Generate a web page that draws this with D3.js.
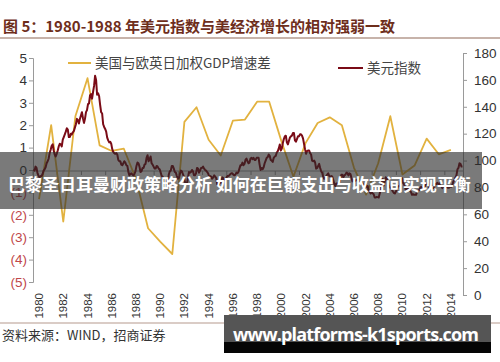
<!DOCTYPE html>
<html>
<head>
<meta charset="utf-8">
<script src="https://cdn.jsdelivr.net/npm/d3@7"></script>
<style>
  body { margin: 0; background: #fff; }
  text { font-family: "Liberation Sans", Arial, "Noto Sans CJK SC", sans-serif; }
  .cjk { font-family: "Noto Sans CJK SC", sans-serif; }
</style>
</head>
<body>
<div id="chart"></div>
<script>
// GDP growth gap (US vs EU/UK/JP weighted), annual, left axis
var gdpYears = d3.range(1980, 2015);
var gdpGap = [-1.3, 2.0, -2.3, 2.4, 4.1, 1.1, 0.85, 0.95, -0.4, -2.6,
  -3.2, -3.75, 2.15, 2.8, 1.35, 0.65, 2.2, 2.25, 3.05, 3.05,
  1.3, -0.3, 1.2, 2.1, 2.35, 2.0, 0.1, -1.1, 0.3, 2.4,
  -0.2, 0.2, 1.4, 0.7, 0.9];

// dollar index, monthly, right axis (one row per year, Jan..Dec)
var dxyStart = 1980;
var dxyRows = [
  [93.5, 92.5, 95.5, 94.5, 90.5, 88.5, 87.5, 88.5, 88.5, 90.0, 92.5, 93.5],
  [95.0, 98.0, 99.5, 101.5, 105.5, 108.0, 111.0, 112.0, 107.5, 104.5, 103.0, 105.0],
  [107.5, 110.5, 112.5, 112.0, 110.5, 115.5, 117.5, 119.5, 121.5, 124.0, 123.0, 117.5],
  [117.5, 120.0, 119.5, 121.0, 122.0, 124.5, 127.0, 131.0, 130.0, 127.5, 131.0, 133.5],
  [136.0, 131.5, 128.0, 131.0, 136.0, 137.5, 142.0, 142.5, 148.5, 149.5, 146.0, 151.0],
  [155.5, 163.0, 160.0, 149.0, 150.0, 148.0, 141.5, 136.0, 135.0, 127.0, 125.0, 123.5],
  [121.5, 117.0, 115.0, 113.5, 114.0, 112.5, 108.5, 106.5, 105.5, 105.0, 105.5, 104.5],
  [100.5, 99.5, 99.5, 97.0, 96.5, 98.0, 99.5, 98.5, 96.5, 96.0, 91.5, 89.0],
  [90.0, 90.5, 89.5, 89.0, 90.0, 92.0, 96.0, 98.5, 98.0, 95.5, 91.5, 92.0],
  [94.5, 94.5, 97.0, 97.5, 102.0, 104.0, 99.5, 101.0, 103.0, 98.0, 97.0, 95.5],
  [94.0, 94.0, 96.0, 95.5, 94.0, 93.5, 91.0, 88.5, 88.0, 85.5, 84.0, 85.0],
  [84.5, 82.5, 89.5, 92.0, 92.5, 96.0, 96.0, 94.0, 91.5, 91.0, 88.5, 86.5],
  [87.0, 90.0, 92.5, 92.0, 90.0, 88.0, 84.0, 82.5, 83.0, 87.0, 91.5, 91.0],
  [91.5, 93.0, 92.0, 89.0, 89.0, 90.5, 94.5, 94.0, 91.0, 92.5, 94.5, 94.5],
  [95.5, 94.0, 93.0, 92.5, 91.5, 90.5, 88.0, 88.5, 88.0, 86.5, 87.5, 89.0],
  [88.0, 87.0, 82.5, 81.5, 83.0, 83.5, 83.5, 87.5, 87.0, 85.5, 86.0, 87.0],
  [88.5, 88.5, 89.0, 90.0, 90.5, 90.5, 89.5, 89.0, 89.5, 91.0, 90.5, 91.5],
  [94.0, 96.5, 96.5, 98.5, 96.5, 97.5, 100.5, 101.5, 99.5, 98.0, 98.5, 101.5],
  [102.0, 101.0, 102.0, 100.5, 100.5, 102.0, 102.0, 102.0, 97.0, 93.0, 94.5, 93.5],
  [95.0, 98.0, 100.0, 102.0, 102.5, 104.5, 103.5, 100.5, 100.0, 99.0, 102.0, 103.0],
  [103.5, 106.0, 107.0, 109.0, 112.0, 107.5, 109.0, 113.0, 116.0, 118.0, 118.5, 113.5],
  [112.0, 114.5, 117.0, 118.0, 118.5, 120.5, 120.5, 115.0, 114.0, 116.0, 118.0, 118.0],
  [119.5, 119.5, 118.5, 116.5, 112.5, 108.5, 105.0, 107.0, 107.5, 107.5, 105.5, 104.5],
  [100.0, 99.5, 100.0, 98.5, 94.0, 94.5, 96.0, 97.5, 94.5, 92.0, 91.0, 88.0],
  [86.5, 86.5, 88.5, 89.5, 90.5, 88.5, 88.0, 88.5, 88.0, 85.5, 82.5, 81.0],
  [83.0, 83.0, 83.0, 84.0, 86.5, 89.5, 89.5, 87.5, 89.0, 89.5, 91.0, 90.5],
  [89.0, 90.5, 90.0, 87.0, 84.5, 85.5, 85.5, 85.0, 85.5, 86.0, 83.5, 83.5],
  [84.5, 84.0, 83.0, 81.5, 81.5, 82.0, 80.5, 81.0, 78.0, 77.0, 75.5, 76.5],
  [75.5, 75.0, 72.5, 72.5, 72.9, 72.8, 72.5, 75.5, 78.0, 84.0, 86.5, 81.5],
  [84.5, 87.5, 86.5, 85.0, 82.0, 80.0, 79.5, 78.5, 77.0, 76.0, 75.5, 77.0],
  [78.5, 80.5, 81.0, 81.5, 86.0, 87.0, 83.5, 82.5, 80.5, 77.5, 79.0, 80.5],
  [79.5, 77.5, 76.5, 74.5, 75.0, 74.5, 74.5, 74.5, 77.0, 77.5, 78.0, 79.5],
  [80.5, 79.0, 79.5, 79.5, 81.5, 82.5, 83.0, 82.0, 79.5, 79.5, 80.0, 79.5],
  [79.5, 80.5, 82.5, 82.5, 83.5, 82.5, 83.0, 81.5, 81.0, 79.5, 80.5, 80.5],
  [81.0, 80.5, 80.0, 79.8, 80.0, 80.5, 80.5, 82.0, 84.5, 85.5, 87.5, 89.0],
  [93.5, 94.5, 98.0, 97.5, 95.5, 95.5]
];

var leftTicks = [-5, -4, -3, -2, -1, 0, 1, 2, 3, 4, 5];
var rightTicks = [0, 20, 40, 60, 80, 100, 120, 140, 160, 180];
var yearLabels = d3.range(1980, 2015, 2);

var titleText = "图 5：1980-1988 年美元指数与美经济增长的相对强弱一致";
var gdpName = "美国与欧英日加权GDP增速差";
var dxyName = "美元指数";
var sourceText = "资料来源：WIND，招商证券";
var bannerText = "巴黎圣日耳曼财政策略分析 如何在巨额支出与收益间实现平衡";
var siteText = "www.platforms-k1sports.com";

var svgWidth = 500, svgHeight = 362;

var svg = d3.select("#chart")
  .append("svg")
  .attr("width", svgWidth)
  .attr("height", svgHeight);

// build series
var gdpData = gdpYears.map((y, i) => ({ t: y + 0.5, v: gdpGap[i] }));
var dxyData = [];
dxyRows.forEach(function(row, i) {
  row.forEach(function(v, m) {
    dxyData.push({ t: dxyStart + i + (m + 0.5) / 12, v: v });
  });
});

// scales
var x = d3.scaleLinear().domain([1980, 2015.5]).range([33, 463]);
var yL = d3.scaleLinear().domain([-5, 5]).range([282, 58]);
var yR = d3.scaleLinear().domain([0, 180]).range([295, 53]);

// title
svg.append("text")
  .attr("class", "cjk")
  .attr("x", 3)
  .attr("y", 32)
  .attr("fill", "#6e2e1c")
  .style("font-size", "15px")
  .style("font-weight", "bold")
  .text(titleText);

svg.append("line")
  .attr("x1", 0).attr("x2", 500)
  .attr("y1", 38).attr("y2", 38)
  .attr("stroke", "#b59a8e").attr("stroke-width", 1.5);

svg.append("line")
  .attr("x1", 0).attr("x2", 500)
  .attr("y1", 323).attr("y2", 323)
  .attr("stroke", "#b59a8e").attr("stroke-width", 1.2);

// axes
var leftAxis = d3.axisLeft(yL)
  .tickValues(leftTicks)
  .tickSize(4)
  .tickPadding(2)
  .tickFormat(d => d < 0 ? "(" + (-d) + ")" : d);

var gl = svg.append("g")
  .attr("transform", "translate(33,0)")
  .call(leftAxis);
gl.select(".domain").attr("stroke", "#9a9a9a");
gl.selectAll(".tick line").attr("stroke", "#9a9a9a");
gl.selectAll(".tick text")
  .style("font-size", "13.5px")
  .attr("fill", d => d < 0 ? "#c0474a" : "#333");

var rightAxis = d3.axisRight(yR)
  .tickValues(rightTicks)
  .tickSize(4)
  .tickPadding(7);

var gr = svg.append("g")
  .attr("transform", "translate(463,0)")
  .call(rightAxis);
gr.select(".domain").attr("stroke", "#9a9a9a");
gr.selectAll(".tick line").attr("stroke", "#9a9a9a");
gr.selectAll(".tick text")
  .style("font-size", "13.5px")
  .attr("fill", "#333");

// x axis on left zero line
svg.append("line")
  .attr("x1", x(1980)).attr("x2", x(2015.5))
  .attr("y1", yL(0) + 1).attr("y2", yL(0) + 1)
  .attr("stroke", "#9a9a9a");

svg.selectAll(".xtick")
  .data(yearLabels)
  .enter()
  .append("line")
  .attr("class", "xtick")
  .attr("x1", d => x(d)).attr("x2", d => x(d))
  .attr("y1", yL(0) + 1).attr("y2", yL(0) + 5)
  .attr("stroke", "#9a9a9a");

svg.selectAll(".xlabel")
  .data(yearLabels)
  .enter()
  .append("text")
  .attr("class", "xlabel")
  .attr("transform", d => `translate(${x(d + 0.5) + 4}, 293) rotate(-90)`)
  .attr("text-anchor", "end")
  .attr("fill", "#333")
  .style("font-size", "11.5px")
  .text(d => d);

// lines
var gdpLine = d3.line().x(d => x(d.t)).y(d => yL(d.v));
var dxyLine = d3.line().x(d => x(d.t)).y(d => yR(d.v));

svg.append("path")
  .datum(gdpData)
  .attr("d", gdpLine)
  .attr("fill", "none")
  .attr("stroke", "#e2b23f")
  .attr("stroke-width", 1.8)
  .attr("stroke-linejoin", "round");

svg.append("path")
  .datum(dxyData)
  .attr("d", dxyLine)
  .attr("fill", "none")
  .attr("stroke", "#7a0b16")
  .attr("stroke-width", 2)
  .attr("stroke-linejoin", "round");

// legends
svg.append("line")
  .attr("x1", 68).attr("x2", 91)
  .attr("y1", 63).attr("y2", 63)
  .attr("stroke", "#e2b23f").attr("stroke-width", 2);
svg.append("text")
  .attr("class", "cjk")
  .attr("x", 95).attr("y", 67.5)
  .attr("fill", "#444")
  .style("font-size", "13.5px")
  .text(gdpName);

svg.append("line")
  .attr("x1", 338).attr("x2", 363)
  .attr("y1", 68).attr("y2", 68)
  .attr("stroke", "#7a0b16").attr("stroke-width", 2);
svg.append("text")
  .attr("class", "cjk")
  .attr("x", 367).attr("y", 72.5)
  .attr("fill", "#444")
  .style("font-size", "13.5px")
  .text(dxyName);

// source
svg.append("text")
  .attr("class", "cjk")
  .attr("x", 2).attr("y", 340)
  .attr("fill", "#333")
  .style("font-size", "13px")
  .text(sourceText);

// banner overlay
svg.append("rect")
  .attr("x", 0).attr("y", 152)
  .attr("width", 482).attr("height", 57)
  .attr("fill", "rgba(40,40,40,0.62)");
svg.append("text")
  .attr("class", "cjk")
  .attr("x", 8).attr("y", 191)
  .attr("fill", "#fff")
  .style("font-size", "17px")
  .style("font-weight", "bold")
  .text(bannerText);

// site watermark
svg.append("rect")
  .attr("x", 224).attr("y", 315)
  .attr("width", 267).attr("height", 27)
  .attr("fill", "#555");
svg.append("rect")
  .attr("x", 224).attr("y", 342)
  .attr("width", 267).attr("height", 11)
  .attr("fill", "#050505");
svg.append("text")
  .attr("x", 233).attr("y", 341)
  .attr("fill", "#fff")
  .attr("textLength", 246)
  .style("font-size", "18px")
  .style("font-weight", "bold")
  .style("font-family", "'Open Sans', 'DejaVu Sans', sans-serif")
  .text(siteText);
</script>
</body>
</html>
